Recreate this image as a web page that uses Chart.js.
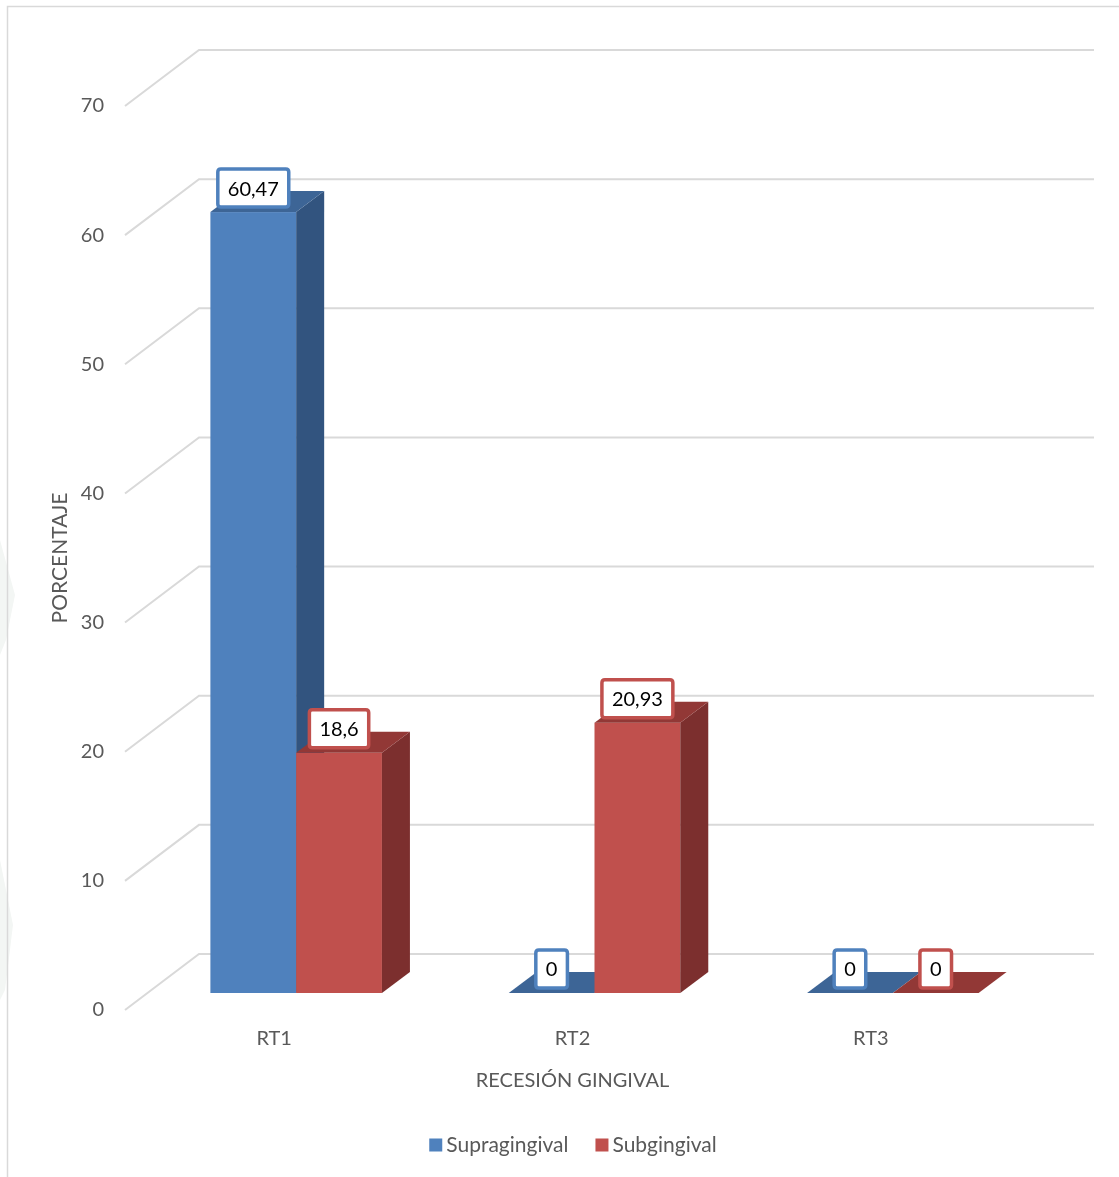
<!DOCTYPE html>
<html>
<head>
<meta charset="utf-8">
<script src="https://cdn.jsdelivr.net/npm/chart.js@4.4.0/dist/chart.umd.min.js"></script>
<style>
  html, body { margin: 0; padding: 0; background: #fff; }
  canvas { display: block; }
</style>
</head>
<body>
<canvas id="chart" width="1119" height="1177"></canvas>
<script>
// Chart data
const categories = ['RT1', 'RT2', 'RT3'];
const seriesNames = ['Supragingival', 'Subgingival'];
const supragingival = [60.47, 0, 0];
const subgingival = [18.6, 20.93, 0];
const yTickLabels = ['0', '10', '20', '30', '40', '50', '60', '70'];
const xTitle = 'RECESIÓN GINGIVAL';
const yTitle = 'PORCENTAJE';

// Colours for each series: front, top, side faces
const seriesColors = [
  { front: '#4f81bd', top: '#3d6596', side: '#32547f' },
  { front: '#c0504d', top: '#923836', side: '#7c2f2e' }
];

// 3D offsets (screen pixels) relative to the front plane of the axes
const WALL = { dx: 74, dy: -56 };
const BAR_FRONT = { dx: 22, dy: -17 };
const BAR_DEPTH = { dx: 28, dy: -21 };

const FONT = 'Lato, "Open Sans", sans-serif';
const GRID_COLOR = '#d9d9d9';
const TEXT_COLOR = '#595959';

function poly(ctx, pts, color) {
  ctx.beginPath();
  ctx.moveTo(pts[0][0], pts[0][1]);
  for (let i = 1; i < pts.length; i++) ctx.lineTo(pts[i][0], pts[i][1]);
  ctx.closePath();
  ctx.fillStyle = color;
  ctx.fill();
}

function barBox(chart, d, i) {
  const bar = chart.getDatasetMeta(d).data[i];
  const p = bar.getProps(['x', 'y', 'base', 'width'], true);
  return {
    left: p.x - p.width / 2 + BAR_FRONT.dx,
    right: p.x + p.width / 2 + BAR_FRONT.dx,
    top: p.y + BAR_FRONT.dy,
    bottom: p.base + BAR_FRONT.dy
  };
}

function roundRect(ctx, x, y, w, h, r) {
  ctx.beginPath();
  ctx.moveTo(x + r, y);
  ctx.lineTo(x + w - r, y);
  ctx.quadraticCurveTo(x + w, y, x + w, y + r);
  ctx.lineTo(x + w, y + h - r);
  ctx.quadraticCurveTo(x + w, y + h, x + w - r, y + h);
  ctx.lineTo(x + r, y + h);
  ctx.quadraticCurveTo(x, y + h, x, y + h - r);
  ctx.lineTo(x, y + r);
  ctx.quadraticCurveTo(x, y, x + r, y);
  ctx.closePath();
}

const scene3d = {
  id: 'scene3d',
  beforeDraw(chart) {
    const ctx = chart.ctx;
    const area = chart.chartArea;
    const yScale = chart.scales.y;
    const xScale = chart.scales.x;
    ctx.save();

    // faint shapes at the left edge
    poly(ctx, [[0, 540], [15, 595], [6, 640], [0, 655]], '#f3f6f4');
    poly(ctx, [[0, 860], [13, 925], [5, 990], [0, 1000]], '#f3f6f4');

    // outer frame
    ctx.strokeStyle = GRID_COLOR;
    ctx.lineWidth = 1.5;
    ctx.strokeRect(7.5, 6.5, 1300, 1300);

    // gridlines: left wall diagonals and back wall horizontals
    ctx.strokeStyle = GRID_COLOR;
    ctx.lineWidth = 2;
    yTickLabels.forEach((t) => {
      const y = yScale.getPixelForValue(Number(t));
      ctx.beginPath();
      ctx.moveTo(area.left, y);
      ctx.lineTo(area.left + WALL.dx, y + WALL.dy);
      ctx.lineTo(area.right + WALL.dx, y + WALL.dy);
      ctx.stroke();
    });

    // tick labels
    ctx.fillStyle = TEXT_COLOR;
    ctx.font = '20px ' + FONT;
    ctx.textAlign = 'right';
    ctx.textBaseline = 'middle';
    yTickLabels.forEach((t) => {
      ctx.fillText(t, 104, yScale.getPixelForValue(Number(t)));
    });
    ctx.textAlign = 'center';
    categories.forEach((c, i) => {
      ctx.fillText(c, xScale.getPixelForValue(i), 1039);
    });

    // axis titles
    ctx.font = '20px ' + FONT;
    ctx.fillText(xTitle, (area.left + area.right) / 2, 1081);
    ctx.font = '21px ' + FONT;
    ctx.save();
    ctx.translate(60, (area.top + area.bottom) / 2);
    ctx.rotate(-Math.PI / 2);
    ctx.fillText(yTitle, 0, 0);
    ctx.restore();

    // legend
    ctx.font = '21px ' + FONT;
    const sq = 13, gap = 4, between = 27;
    const widths = seriesNames.map((n) => sq + gap + ctx.measureText(n).width);
    let lx = 573 - (widths[0] + widths[1] + between) / 2;
    const ly = 1145;
    ctx.textAlign = 'left';
    seriesNames.forEach((n, k) => {
      ctx.fillStyle = seriesColors[k].front;
      ctx.fillRect(lx, ly - sq / 2, sq, sq);
      ctx.fillStyle = TEXT_COLOR;
      ctx.fillText(n, lx + sq + gap, ly);
      lx += widths[k] + between;
    });
    ctx.restore();
  },
  beforeDatasetsDraw(chart) {
    const ctx = chart.ctx;
    ctx.save();
    categories.forEach((c, i) => {
      chart.data.datasets.forEach((ds, d) => {
        const b = barBox(chart, d, i);
        const col = seriesColors[d];
        if (b.bottom - b.top > 0) {
          ctx.fillStyle = col.front;
          ctx.fillRect(b.left, b.top, b.right - b.left, b.bottom - b.top);
          poly(ctx, [[b.right, b.top], [b.right + BAR_DEPTH.dx, b.top + BAR_DEPTH.dy],
            [b.right + BAR_DEPTH.dx, b.bottom + BAR_DEPTH.dy], [b.right, b.bottom]], col.side);
        }
        poly(ctx, [[b.left, b.top], [b.left + BAR_DEPTH.dx, b.top + BAR_DEPTH.dy],
          [b.right + BAR_DEPTH.dx, b.top + BAR_DEPTH.dy], [b.right, b.top]], col.top);
      });
    });
    ctx.restore();
    return false;
  },
  afterDraw(chart) {
    // data labels in bordered boxes
    const ctx = chart.ctx;
    ctx.save();
    ctx.font = '20px ' + FONT;
    ctx.textAlign = 'center';
    ctx.textBaseline = 'middle';
    chart.data.datasets.forEach((ds, d) => {
      ds.data.forEach((v, i) => {
        const b = barBox(chart, d, i);
        const text = String(v).replace('.', ',');
        const w = ctx.measureText(text).width + 20;
        const h = 38;
        const cx = (b.left + b.right) / 2;
        const bottom = b.top - 5;
        roundRect(ctx, cx - w / 2, bottom - h, w, h, 3);
        ctx.fillStyle = '#ffffff';
        ctx.fill();
        ctx.lineWidth = 3.5;
        ctx.strokeStyle = seriesColors[d].front;
        ctx.stroke();
        ctx.fillStyle = '#000000';
        ctx.fillText(text, cx, bottom - h / 2 + 1);
      });
    });
    ctx.restore();
  }
};

new Chart(document.getElementById('chart').getContext('2d'), {
  type: 'bar',
  data: {
    labels: categories,
    datasets: [
      { label: seriesNames[0], data: supragingival, backgroundColor: seriesColors[0].front },
      { label: seriesNames[1], data: subgingival, backgroundColor: seriesColors[1].front }
    ]
  },
  options: {
    responsive: false,
    animation: false,
    categoryPercentage: 0.575,
    barPercentage: 1,
    layout: { padding: { left: 125, top: 106, right: 99, bottom: 167 } },
    plugins: { legend: { display: false }, tooltip: { enabled: false } },
    scales: {
      x: { display: false, offset: true },
      y: { display: false, min: 0, max: 70 }
    }
  },
  plugins: [scene3d]
});
</script>
</body>
</html>
